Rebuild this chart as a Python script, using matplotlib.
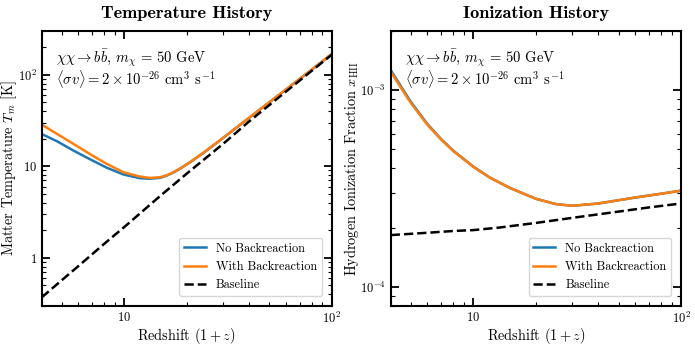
import matplotlib
matplotlib.use("Agg")
import matplotlib.pyplot as plt
from matplotlib.ticker import FixedLocator, FuncFormatter, NullFormatter, LogLocator
import numpy as np

plt.rcParams['font.family'] = 'serif'
plt.rcParams['font.serif'] = ['cmr10']
plt.rcParams['mathtext.fontset'] = 'cm'
plt.rcParams['axes.formatter.use_mathtext'] = True

# ---------------- Data ----------------
# Temperature history (left)
temp_x = [4, 4.75, 5.7, 6.9, 8.25, 9.9, 11.9, 13.3, 14.9, 16, 17.3, 18.8, 20.7, 24, 28, 34, 40, 50, 58, 70, 80, 100]
temp_noback = [22.5, 18.7, 14.8, 11.8, 9.62, 8.13, 7.41, 7.30, 7.48, 7.89, 8.57, 9.55, 11.0, 13.9, 18.1, 25.4,
               33.8, 49.9, 64.4, 89.5, 113.0, 168.0]
temp_back = [28.5, 22.5, 17.5, 13.4, 10.6, 8.6, 7.72, 7.45, 7.59, 7.96, 8.62, 9.6, 11.05, 14.0, 18.2, 25.5,
             33.9, 50.0, 64.6, 89.7, 113.3, 168.4]
base_temp_x = [4, 5, 6, 8, 10, 15, 20, 30, 40, 60, 80, 100]
base_temp = [0.37, 0.57, 0.81, 1.42, 2.17, 4.8, 8.3, 17.6, 30.9, 65.0, 110.0, 165.0]

# Ionization history (right)
ion_x = [4, 4.5, 5, 6, 7, 8, 10, 12, 15, 20, 25, 30, 40, 60, 80, 100]
ion_back = [1.24e-3, 1.02e-3, 8.6e-4, 6.67e-4, 5.6e-4, 4.9e-4, 4.07e-4, 3.59e-4, 3.18e-4, 2.80e-4,
            2.63e-4, 2.58e-4, 2.65e-4, 2.84e-4, 2.97e-4, 3.08e-4]
ion_noback = [1.265e-3, 1.037e-3, 8.72e-4, 6.73e-4, 5.63e-4, 4.92e-4, 4.08e-4, 3.59e-4, 3.18e-4, 2.80e-4,
              2.63e-4, 2.58e-4, 2.65e-4, 2.84e-4, 2.97e-4, 3.08e-4]
base_ion_x = [4, 6, 8, 10, 13.4, 20, 30, 50, 70, 100]
base_ion = [1.83e-4, 1.88e-4, 1.92e-4, 1.94e-4, 2.0e-4, 2.11e-4, 2.24e-4, 2.41e-4, 2.53e-4, 2.65e-4]

labels = ['No Backreaction', 'With Backreaction', 'Baseline']
titles = ['Temperature History', 'Ionization History']
ylabels = [r'Matter Temperature $T_m$ [K]', r'Hydrogen Ionization Fraction $x_{\rm HII}$']
xlabel = r'Redshift $(1+z)$'
annot = '$\\chi\\chi \\rightarrow b\\bar{b}$, $m_\\chi$ = 50 GeV\n$\\langle \\sigma v \\rangle = 2 \\times 10^{-26}$ cm$^3$ s$^{-1}$'

blue = '#1f77b4'
orange = '#ff7f0e'

fig = plt.figure(figsize=(6.95, 3.47), dpi=100)
ax1 = fig.add_axes([0.060, 0.119, 0.4173, 0.7917])
ax2 = fig.add_axes([0.5622, 0.119, 0.4177, 0.7917])

def style(ax):
    ax.set_xscale('log')
    ax.set_yscale('log')
    for s in ax.spines.values():
        s.set_linewidth(1.5)
    ax.tick_params(which='both', direction='in', top=True, right=True, labelsize=9)
    ax.tick_params(which='major', length=6, width=1.3)
    ax.tick_params(which='minor', length=3, width=0.8)
    ax.set_xlim(4, 100)
    ax.xaxis.set_major_locator(FixedLocator([10, 100]))
    ax.xaxis.set_major_formatter(FuncFormatter(lambda v, p: {10: '$10$', 100: '$10^2$'}.get(int(round(v)), '')))
    ax.xaxis.set_minor_locator(LogLocator(base=10, subs=np.arange(2, 10)))
    ax.xaxis.set_minor_formatter(NullFormatter())
    ax.set_xlabel(xlabel, fontsize=10.3, labelpad=0)

# Left
style(ax1)
ax1.plot(temp_x, temp_noback, color=blue, lw=1.8, label=labels[0])
ax1.plot(temp_x, temp_back, color=orange, lw=1.8, label=labels[1])
ax1.plot(base_temp_x, base_temp, color='black', lw=1.8, ls='--', label=labels[2])
ax1.set_ylim(0.3, 300)
ax1.yaxis.set_major_locator(FixedLocator([1, 10, 100]))
ax1.yaxis.set_major_formatter(FuncFormatter(lambda v, p: {1: '$1$', 10: '$10$', 100: '$10^2$'}.get(int(round(v)), '')))
ax1.yaxis.set_minor_locator(LogLocator(base=10, subs=np.arange(2, 10)))
ax1.yaxis.set_minor_formatter(NullFormatter())
ax1.set_ylabel(ylabels[0], fontsize=10.3, labelpad=-1)
ax1.set_title(titles[0], family='cmb10', fontsize=13.2, pad=9)

# Right
style(ax2)
ax2.plot(ion_x, ion_noback, color=blue, lw=1.8, label=labels[0])
ax2.plot(ion_x, ion_back, color=orange, lw=1.8, label=labels[1])
ax2.plot(base_ion_x, base_ion, color='black', lw=1.8, ls='--', label=labels[2])
ax2.set_ylim(8e-5, 2e-3)
ax2.yaxis.set_minor_formatter(NullFormatter())
ax2.set_ylabel(ylabels[1], fontsize=10.3, labelpad=-1)
ax2.set_title(titles[1], family='cmb10', fontsize=13.2, pad=9)

for ax in (ax1, ax2):
    ax.text(0.05, 0.94, annot, transform=ax.transAxes, fontsize=10.5, va='top', ha='left',
            linespacing=0.95)
    ax.legend(loc='lower right', fontsize=8.8, frameon=True, fancybox=True,
              borderaxespad=0.8, handlelength=1.8, labelspacing=0.5)

fig.savefig('out.png', dpi=100)
